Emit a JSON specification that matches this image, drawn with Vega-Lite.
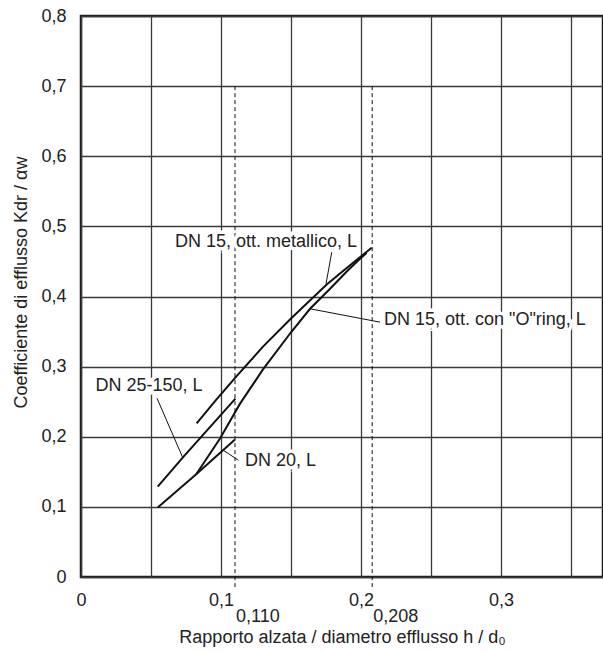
{
  "$schema": "https://vega.github.io/schema/vega-lite/v6.json",
  "width": 522,
  "height": 561,
  "autosize": {"type": "none"},
  "padding": {"left": 81, "top": 16, "right": 0, "bottom": 75},
  "background": "white",
  "config": {
    "font": "Liberation Sans",
    "view": {"stroke": "#1a1a1a", "strokeWidth": 2.5},
    "axis": {
      "grid": true,
      "gridColor": "#3a3a3a",
      "gridWidth": 1.3,
      "domain": false,
      "ticks": false,
      "tickSize": 0,
      "labelFontSize": 18,
      "labelColor": "#222222",
      "labelOverlap": false,
      "labelBound": false,
      "labelFlush": false,
      "titleFontSize": 18,
      "titleFontWeight": "normal",
      "titleColor": "#222222"
    }
  },
  "datasets": {
    "curves": [
      {"series": "metallico", "x": 0.0826, "y": 0.2190},
      {"series": "metallico", "x": 0.0965, "y": 0.2525},
      {"series": "metallico", "x": 0.1107, "y": 0.2855},
      {"series": "metallico", "x": 0.1300, "y": 0.3285},
      {"series": "metallico", "x": 0.1500, "y": 0.3685},
      {"series": "metallico", "x": 0.1755, "y": 0.4170},
      {"series": "metallico", "x": 0.1900, "y": 0.4410},
      {"series": "metallico", "x": 0.2076, "y": 0.4695},
      {"series": "oring", "x": 0.0823, "y": 0.1466},
      {"series": "oring", "x": 0.0993, "y": 0.1974},
      {"series": "oring", "x": 0.1136, "y": 0.2472},
      {"series": "oring", "x": 0.1300, "y": 0.2960},
      {"series": "oring", "x": 0.1500, "y": 0.3490},
      {"series": "oring", "x": 0.1636, "y": 0.3825},
      {"series": "oring", "x": 0.1779, "y": 0.4110},
      {"series": "oring", "x": 0.1900, "y": 0.4360},
      {"series": "oring", "x": 0.1993, "y": 0.4537},
      {"series": "oring", "x": 0.2040, "y": 0.4620},
      {"series": "dn25", "x": 0.0548, "y": 0.1288},
      {"series": "dn25", "x": 0.0731, "y": 0.1712},
      {"series": "dn25", "x": 0.1103, "y": 0.2544},
      {"series": "dn20", "x": 0.0548, "y": 0.0992},
      {"series": "dn20", "x": 0.0823, "y": 0.1466},
      {"series": "dn20", "x": 0.1100, "y": 0.1960}
    ],
    "leaders": [
      {"series": "l1", "x": 0.1791, "y": 0.4631},
      {"series": "l1", "x": 0.1750, "y": 0.4180},
      {"series": "l2", "x": 0.2136, "y": 0.3634},
      {"series": "l2", "x": 0.1636, "y": 0.3825},
      {"series": "l3", "x": 0.0543, "y": 0.2549},
      {"series": "l3", "x": 0.0726, "y": 0.1706},
      {"series": "l4", "x": 0.1124, "y": 0.1665},
      {"series": "l4", "x": 0.1016, "y": 0.1808}
    ],
    "dashed": [
      {"x": 0.110, "y": 0.7, "y2": -0.0143},
      {"x": 0.208, "y": 0.7, "y2": -0.0143}
    ],
    "labels": [
      {"label": "DN 15, ott. metallico, L", "x": 0.0671, "y": 0.4777},
      {"label": "DN 15, ott. con \"O\"ring, L", "x": 0.2164, "y": 0.3669},
      {"label": "DN 25-150, L", "x": 0.0103, "y": 0.2720},
      {"label": "DN 20, L", "x": 0.1171, "y": 0.1658}
    ],
    "extra": [
      {"label": "0,110", "x": 0.110, "y": -0.0575},
      {"label": "0,208", "x": 0.208, "y": -0.0575}
    ]
  },
  "layer": [
    {
      "data": {"name": "curves"},
      "mark": {"type": "line", "color": "#111111", "strokeWidth": 2},
      "encoding": {
        "x": {
          "field": "x", "type": "quantitative",
          "scale": {"domain": [0, 0.372857], "nice": false, "zero": false},
          "axis": {
            "values": [0, 0.05, 0.1, 0.15, 0.2, 0.25, 0.3, 0.35],
            "labelExpr": "abs(datum.value*10 - round(datum.value*10)) < 0.001 ? (datum.value == 0 ? '0' : replace(format(datum.value, '.1f'), '.', ',')) : ''",
            "labelPadding": 14,
            "title": "Rapporto alzata / diametro efflusso h / d₀",
            "titlePadding": 19
          }
        },
        "y": {
          "field": "y", "type": "quantitative",
          "scale": {"domain": [0, 0.8], "nice": false, "zero": false},
          "axis": {
            "values": [0, 0.05, 0.1, 0.15, 0.2, 0.25, 0.3, 0.35, 0.4, 0.45, 0.5, 0.55, 0.6, 0.65, 0.7, 0.75, 0.8],
            "labelExpr": "abs(datum.value*10 - round(datum.value*10)) < 0.001 ? (datum.value == 0 ? '0' : replace(format(datum.value, '.1f'), '.', ',')) : ''",
            "labelPadding": 15,
            "title": "Coefficiente di efflusso Kdr / αw",
            "titlePadding": 10,
            "titleY": 266
          }
        },
        "detail": {"field": "series"}
      }
    },
    {
      "data": {"name": "leaders"},
      "mark": {"type": "line", "color": "#111111", "strokeWidth": 1},
      "encoding": {
        "x": {"field": "x", "type": "quantitative", "scale": {"domain": [0, 0.372857], "nice": false, "zero": false}},
        "y": {"field": "y", "type": "quantitative", "scale": {"domain": [0, 0.8], "nice": false, "zero": false}},
        "detail": {"field": "series"}
      }
    },
    {
      "data": {"name": "dashed"},
      "mark": {"type": "rule", "color": "#111111", "strokeWidth": 1, "strokeDash": [4, 3]},
      "encoding": {
        "x": {"field": "x", "type": "quantitative", "scale": {"domain": [0, 0.372857], "nice": false, "zero": false}},
        "y": {"field": "y", "type": "quantitative", "scale": {"domain": [0, 0.8], "nice": false, "zero": false}},
        "y2": {"field": "y2"}
      }
    },
    {
      "data": {"name": "labels"},
      "mark": {"type": "text", "align": "left", "baseline": "middle", "fontSize": 18, "stroke": "white", "strokeWidth": 7, "fill": "white"},
      "encoding": {
        "x": {"field": "x", "type": "quantitative", "scale": {"domain": [0, 0.372857], "nice": false, "zero": false}},
        "y": {"field": "y", "type": "quantitative", "scale": {"domain": [0, 0.8], "nice": false, "zero": false}},
        "text": {"field": "label"}
      }
    },
    {
      "data": {"name": "labels"},
      "mark": {"type": "text", "align": "left", "baseline": "middle", "fontSize": 18, "color": "#222222"},
      "encoding": {
        "x": {"field": "x", "type": "quantitative", "scale": {"domain": [0, 0.372857], "nice": false, "zero": false}},
        "y": {"field": "y", "type": "quantitative", "scale": {"domain": [0, 0.8], "nice": false, "zero": false}},
        "text": {"field": "label"}
      }
    },
    {
      "data": {"name": "extra"},
      "mark": {"type": "text", "align": "left", "baseline": "middle", "fontSize": 18, "color": "#222222", "dx": 1},
      "encoding": {
        "x": {"field": "x", "type": "quantitative", "scale": {"domain": [0, 0.372857], "nice": false, "zero": false}},
        "y": {"field": "y", "type": "quantitative", "scale": {"domain": [0, 0.8], "nice": false, "zero": false}},
        "text": {"field": "label"}
      }
    }
  ]
}
